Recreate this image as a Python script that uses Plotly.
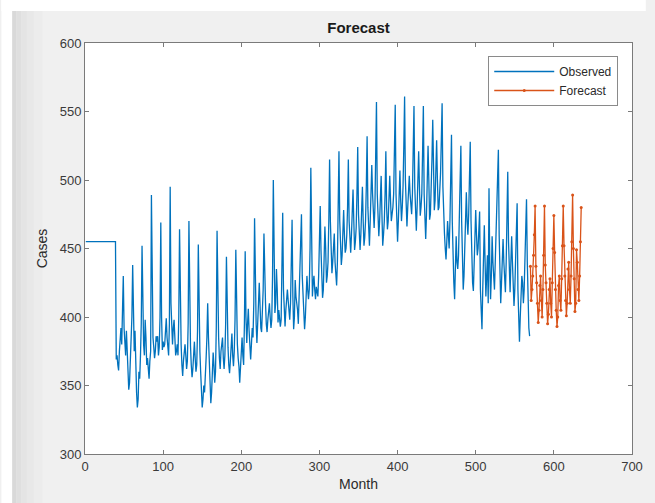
import plotly.graph_objects as go

# Observed monthly cases (months 1..569)
obs_flat = [455, 455, 455, 455, 455, 455, 455, 455, 455, 455, 455, 455, 455,
            455, 455, 455, 455, 455, 455, 455, 455, 455, 455, 455, 455, 455,
            455, 455, 455, 455, 455, 455, 455, 455, 455, 455, 455, 455, 455]
obs_start = [369, 372, 365, 361, 375, 385, 392, 380, 400]
obs_cycles = [
    430, 392, 385, 372, 390, 370, 355, 347, 352, 365, 380, 400,
    438, 386, 375, 390, 360, 345, 334, 340, 360, 355, 372, 395,
    452, 396, 380, 372, 398, 385, 365, 370, 362, 355, 368, 375,
    489, 420, 385, 378, 370, 375, 386, 382, 386, 372, 378, 400,
    469, 400, 376, 382, 378, 380, 392, 399, 385, 380, 372, 395,
    495, 410, 386, 380, 392, 398, 385, 372, 375, 380, 372, 400,
    464, 395, 380, 365, 357, 368, 374, 380, 372, 362, 368, 395,
    470, 400, 379, 365, 356, 362, 376, 382, 370, 360, 365, 390,
    453, 391, 375, 360, 345, 334, 340, 350, 345, 355, 370, 385,
    410, 385, 370, 350, 337, 345, 360, 374, 365, 352, 360, 392,
    463, 396, 385, 370, 362, 375, 380, 385, 370, 362, 372, 395,
    444, 390, 378, 365, 359, 368, 380, 388, 372, 364, 375, 398,
    449, 395, 380, 370, 364, 352, 362, 375, 385, 372, 365, 395,
    448, 400, 381, 395, 406, 390, 375, 369, 380, 392, 385, 410,
    472, 420, 395, 381, 392, 410, 425, 400, 392, 389, 400, 420,
    461, 420, 410, 395, 389, 398, 405, 410, 400, 392, 398, 430,
    500, 435, 403, 410, 435, 420, 396, 405, 400, 393, 398, 430,
    476, 420, 400, 393, 405, 415, 420, 412, 405, 398, 410, 440,
    471, 415, 391, 400, 427, 415, 410, 405, 395, 412, 425, 445,
    475, 430, 420, 405, 391, 400, 412, 430, 420, 413, 420, 450,
    509, 450, 415, 425, 430, 420, 413, 422, 418, 415, 430, 455,
    481, 449, 430, 414, 420, 440, 466, 450, 425, 430, 440, 470,
    515, 470, 445, 432, 440, 450, 461, 440, 430, 423, 440, 470,
    521, 470, 450, 438, 445, 465, 478, 460, 447, 450, 460, 480,
    515, 470, 455, 447, 460, 480, 493, 470, 449, 455, 465, 490,
    524, 475, 460, 449, 460, 480, 495, 470, 452, 458, 470, 495,
    532, 480, 460, 452, 470, 490, 511, 490, 470, 465, 480, 510,
    557, 490, 470, 459, 470, 490, 503, 475, 452, 460, 470, 490,
    521, 480, 464, 470, 490, 503, 485, 470, 475, 480, 490, 520,
    555, 490, 465, 455, 470, 495, 507, 485, 470, 480, 495, 525,
    561, 500, 475, 466, 480, 495, 503, 490, 481, 475, 490, 520,
    554, 495, 470, 463, 480, 505, 521, 495, 474, 480, 490, 520,
    554, 490, 465, 457, 475, 505, 525, 500, 471, 475, 490, 515,
    544, 495, 478, 485, 510, 529, 500, 478, 480, 490, 505, 530,
    556, 495, 470, 461, 450, 442, 455, 470, 460, 450, 470, 500,
    533, 470, 440, 425, 413, 430, 459, 440, 435, 445, 470, 495,
    525, 470, 440, 420, 430, 455, 475, 491, 470, 460, 475, 500,
    528, 470, 440, 425, 419, 440, 460, 478, 460, 445, 450, 465,
    477, 420, 400, 391, 420, 445, 467, 440, 415, 430, 445, 410,
    494, 440, 413, 430, 459, 440, 430, 420, 440, 460, 480, 500,
    522, 460, 430, 410, 425, 445, 457, 440, 420, 418, 440, 470,
    506, 455, 430, 418, 440, 459, 440, 420, 408, 420, 445, 465,
    483, 420, 395, 382, 400, 420, 430, 425, 410, 420, 445, 470,
]
obs_end = [486, 440, 410, 392, 386]
obs_cases = obs_flat + obs_start + obs_cycles + obs_end
obs_month = list(range(1, len(obs_cases) + 1))

# Forecast series (monthly)
fc_cases = [437, 412, 420, 430, 445, 460, 481,
            437, 425, 410, 396, 405, 423, 430, 412, 400, 420, 445, 481,
            438, 425, 410, 395, 402, 420, 428, 410, 400, 425, 450, 474,
            447, 420, 405, 393, 400, 423, 430, 412, 405, 428, 452, 481,
            452, 430, 412, 401, 410, 435, 440, 420, 410, 430, 455, 489,
            450, 428, 404, 410, 449, 440, 420, 412, 430, 455, 480]
fc_month = list(range(len(obs_cases) + 1, len(obs_cases) + 1 + len(fc_cases)))

x_ticks = [0, 100, 200, 300, 400, 500, 600, 700]
y_ticks = [300, 350, 400, 450, 500, 550, 600]

FONT = "Liberation Sans, Arial, sans-serif"

fig = go.Figure()
fig.add_trace(go.Scatter(x=obs_month, y=obs_cases, mode="lines", name="Observed",
                         line=dict(color="#0072BD", width=1.3)))
fig.add_trace(go.Scatter(x=fc_month, y=fc_cases, mode="lines+markers", name="Forecast",
                         line=dict(color="#D95319", width=1.3),
                         marker=dict(size=3, color="#D95319")))

L, R, T, B = 85, 14, 43, 49
W, H = 655, 503
pw, ph = W - L - R, H - T - B

def px_x(p):
    return (p - L) / pw

def px_y(p):
    return 1 - (p - T) / ph

shapes = [
    dict(type="rect", xref="paper", yref="paper", x0=px_x(0), x1=px_x(W), y0=px_y(11), y1=px_y(0),
         fillcolor="white", line_width=0, layer="below"),
    dict(type="rect", xref="paper", yref="paper", x0=px_x(0), x1=px_x(11), y0=px_y(H), y1=px_y(0),
         fillcolor="white", line_width=0, layer="below"),
]
grad = [(11, 15, "#d9d9d9"), (15, 20, "#dfdfdf"), (20, 26, "#e4e4e4"), (26, 33, "#e8e8e8"), (33, 42, "#ececec")]
for a, b, c in grad:
    shapes.append(dict(type="rect", xref="paper", yref="paper", x0=px_x(a), x1=px_x(b),
                       y0=px_y(H), y1=px_y(11), fillcolor=c, line_width=0, layer="below"))

fig.update_layout(
    width=W, height=H,
    margin=dict(l=L, r=R, t=T, b=B),
    paper_bgcolor="#f0f0f0",
    plot_bgcolor="white",
    font=dict(family=FONT, size=13, color="#3a3a3a"),
    title=dict(text="<b>Forecast</b>", x=px_x(363), xanchor="center", xref="paper",
               y=1 - 28 / H, yanchor="middle", font=dict(size=15, color="#1a1a1a")),
    shapes=shapes,
    showlegend=True,
    legend=dict(x=px_x(627), y=px_y(56), xanchor="right", yanchor="top",
                bgcolor="white", bordercolor="#8a8a8a", borderwidth=1,
                font=dict(size=12, color="#2a2a2a"), itemwidth=60,
                tracegroupgap=0),
)
fig.update_xaxes(range=[0, 700], tickvals=x_ticks, ticks="inside", ticklen=4,
                 tickcolor="#7a7a7a", showline=True, linecolor="#7a7a7a", linewidth=1,
                 mirror="ticks", showgrid=False, zeroline=False,
                 title=dict(text="Month", font=dict(size=14, color="#2a2a2a"), standoff=6))
fig.update_yaxes(range=[300, 600], tickvals=y_ticks, ticks="inside", ticklen=4,
                 tickcolor="#7a7a7a", showline=True, linecolor="#7a7a7a", linewidth=1,
                 mirror="ticks", showgrid=False, zeroline=False,
                 title=dict(text="Cases", font=dict(size=14, color="#2a2a2a"), standoff=8))

fig.write_html("out.html")
